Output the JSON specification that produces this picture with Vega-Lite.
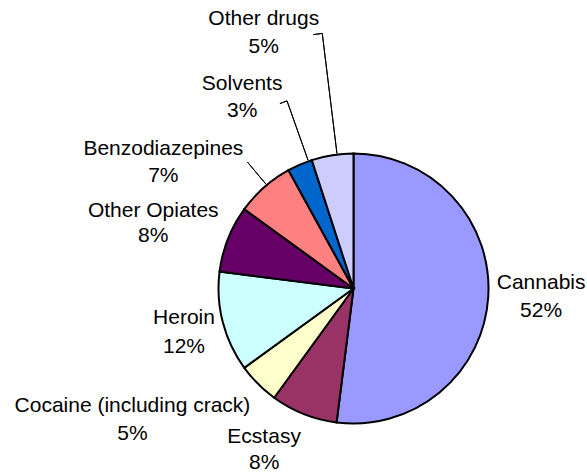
{
  "$schema": "https://vega.github.io/schema/vega-lite/v6.json",
  "width": 467,
  "height": 371,
  "autosize": {"type": "none"},
  "padding": {"left": 120, "top": 103, "right": 0, "bottom": 0},
  "background": "white",
  "config": {"view": {"stroke": null}},
  "data": {
    "values": [
      {"drug": "Cannabis", "pct": 52, "rank": 1, "label": "Cannabis\n52%"},
      {"drug": "Ecstasy", "pct": 8, "rank": 2, "label": "Ecstasy\n8%"},
      {"drug": "Cocaine (including crack)", "pct": 5, "rank": 3, "label": "Cocaine (including crack)\n5%"},
      {"drug": "Heroin", "pct": 12, "rank": 4, "label": "Heroin\n12%"},
      {"drug": "Other Opiates", "pct": 8, "rank": 5, "label": "Other Opiates\n8%"},
      {"drug": "Benzodiazepines", "pct": 7, "rank": 6, "label": "Benzodiazepines\n7%"},
      {"drug": "Solvents", "pct": 3, "rank": 7, "label": "Solvents\n3%"},
      {"drug": "Other drugs", "pct": 5, "rank": 8, "label": "Other drugs\n5%"}
    ]
  },
  "layer": [
    {
      "mark": {"type": "arc", "outerRadius": 135, "stroke": "black", "strokeWidth": 2},
      "encoding": {
        "theta": {"field": "pct", "type": "quantitative", "stack": true, "scale": {"domain": [0, 100]}},
        "order": {"field": "rank", "type": "quantitative"},
        "color": {
          "field": "drug", "type": "nominal", "legend": null,
          "scale": {
            "domain": ["Cannabis", "Ecstasy", "Cocaine (including crack)", "Heroin", "Other Opiates", "Benzodiazepines", "Solvents", "Other drugs"],
            "range": ["#9999FF", "#993366", "#FFFFCC", "#CCFFFF", "#660066", "#FF8080", "#0066CC", "#CCCCFF"]
          }
        }
      }
    },
    {
      "mark": {"type": "text", "radius": 188, "dx": 0, "dy": -17, "font": "Liberation Sans", "fontSize": 21, "lineBreak": "\n", "lineHeight": 28, "color": "black"},
      "encoding": {
        "theta": {"field": "pct", "type": "quantitative", "stack": true},
        "order": {"field": "rank", "type": "quantitative"},
        "detail": {"field": "drug", "type": "nominal"},
        "text": {"condition": {"test": "datum.drug === 'Cannabis'", "field": "label", "type": "nominal"}, "value": ""}
      }
    },
    {
      "mark": {"type": "text", "radius": 183, "dx": -22, "dy": -22, "font": "Liberation Sans", "fontSize": 21, "lineBreak": "\n", "lineHeight": 26, "color": "black"},
      "encoding": {
        "theta": {"field": "pct", "type": "quantitative", "stack": true},
        "order": {"field": "rank", "type": "quantitative"},
        "detail": {"field": "drug", "type": "nominal"},
        "text": {"condition": {"test": "datum.drug === 'Ecstasy'", "field": "label", "type": "nominal"}, "value": ""}
      }
    },
    {
      "mark": {"type": "text", "radius": 249, "dx": -45, "dy": -59, "font": "Liberation Sans", "fontSize": 21, "lineBreak": "\n", "lineHeight": 28, "color": "black"},
      "encoding": {
        "theta": {"field": "pct", "type": "quantitative", "stack": true},
        "order": {"field": "rank", "type": "quantitative"},
        "detail": {"field": "drug", "type": "nominal"},
        "text": {"condition": {"test": "datum.drug === 'Cocaine (including crack)'", "field": "label", "type": "nominal"}, "value": ""}
      }
    },
    {
      "mark": {"type": "text", "radius": 175, "dx": 0, "dy": -14, "font": "Liberation Sans", "fontSize": 21, "lineBreak": "\n", "lineHeight": 29, "color": "black"},
      "encoding": {
        "theta": {"field": "pct", "type": "quantitative", "stack": true},
        "order": {"field": "rank", "type": "quantitative"},
        "detail": {"field": "drug", "type": "nominal"},
        "text": {"condition": {"test": "datum.drug === 'Heroin'", "field": "label", "type": "nominal"}, "value": ""}
      }
    },
    {
      "mark": {"type": "text", "radius": 210, "dx": -5, "dy": 0, "font": "Liberation Sans", "fontSize": 21, "lineBreak": "\n", "lineHeight": 25, "color": "black"},
      "encoding": {
        "theta": {"field": "pct", "type": "quantitative", "stack": true},
        "order": {"field": "rank", "type": "quantitative"},
        "detail": {"field": "drug", "type": "nominal"},
        "text": {"condition": {"test": "datum.drug === 'Other Opiates'", "field": "label", "type": "nominal"}, "value": ""}
      }
    },
    {
      "mark": {"type": "text", "radius": 221, "dx": -44, "dy": 26, "font": "Liberation Sans", "fontSize": 21, "lineBreak": "\n", "lineHeight": 27, "color": "black"},
      "encoding": {
        "theta": {"field": "pct", "type": "quantitative", "stack": true},
        "order": {"field": "rank", "type": "quantitative"},
        "detail": {"field": "drug", "type": "nominal"},
        "text": {"condition": {"test": "datum.drug === 'Benzodiazepines'", "field": "label", "type": "nominal"}, "value": ""}
      }
    },
    {
      "mark": {"type": "text", "radius": 220, "dx": -24, "dy": -3, "font": "Liberation Sans", "fontSize": 21, "lineBreak": "\n", "lineHeight": 27, "color": "black"},
      "encoding": {
        "theta": {"field": "pct", "type": "quantitative", "stack": true},
        "order": {"field": "rank", "type": "quantitative"},
        "detail": {"field": "drug", "type": "nominal"},
        "text": {"condition": {"test": "datum.drug === 'Solvents'", "field": "label", "type": "nominal"}, "value": ""}
      }
    },
    {
      "mark": {"type": "text", "radius": 267, "dx": -48, "dy": -6, "font": "Liberation Sans", "fontSize": 21, "lineBreak": "\n", "lineHeight": 28, "color": "black"},
      "encoding": {
        "theta": {"field": "pct", "type": "quantitative", "stack": true},
        "order": {"field": "rank", "type": "quantitative"},
        "detail": {"field": "drug", "type": "nominal"},
        "text": {"condition": {"test": "datum.drug === 'Other drugs'", "field": "label", "type": "nominal"}, "value": ""}
      }
    },
    {
      "data": {"values": [{"leader": "Other drugs"}]},
      "mark": {"type": "arc", "innerRadius": 136, "outerRadius": 257, "filled": false, "color": "black", "stroke": "black", "strokeWidth": 1},
      "encoding": {"theta": {"datum": 98.06, "type": "quantitative"}, "theta2": {"datum": 98.06}}
    },
    {
      "data": {"values": [{"leader": "Other drugs"}]},
      "mark": {"type": "arc", "innerRadius": 257, "outerRadius": 257, "filled": false, "color": "black", "stroke": "black", "strokeWidth": 1},
      "encoding": {"theta": {"datum": 97.5, "type": "quantitative"}, "theta2": {"datum": 98.06}}
    },
    {
      "data": {"values": [{"leader": "Solvents"}]},
      "mark": {"type": "arc", "innerRadius": 136, "outerRadius": 199, "filled": false, "color": "black", "stroke": "black", "strokeWidth": 1},
      "encoding": {"theta": {"datum": 94.58, "type": "quantitative"}, "theta2": {"datum": 94.58}}
    },
    {
      "data": {"values": [{"leader": "Solvents"}]},
      "mark": {"type": "arc", "innerRadius": 199, "outerRadius": 199, "filled": false, "color": "black", "stroke": "black", "strokeWidth": 1},
      "encoding": {"theta": {"datum": 93.97, "type": "quantitative"}, "theta2": {"datum": 94.58}}
    },
    {
      "data": {"values": [{"leader": "Benzodiazepines"}]},
      "mark": {"type": "arc", "innerRadius": 136, "outerRadius": 165, "filled": false, "color": "black", "stroke": "black", "strokeWidth": 1},
      "encoding": {"theta": {"datum": 88.89, "type": "quantitative"}, "theta2": {"datum": 88.89}}
    }
  ]
}
